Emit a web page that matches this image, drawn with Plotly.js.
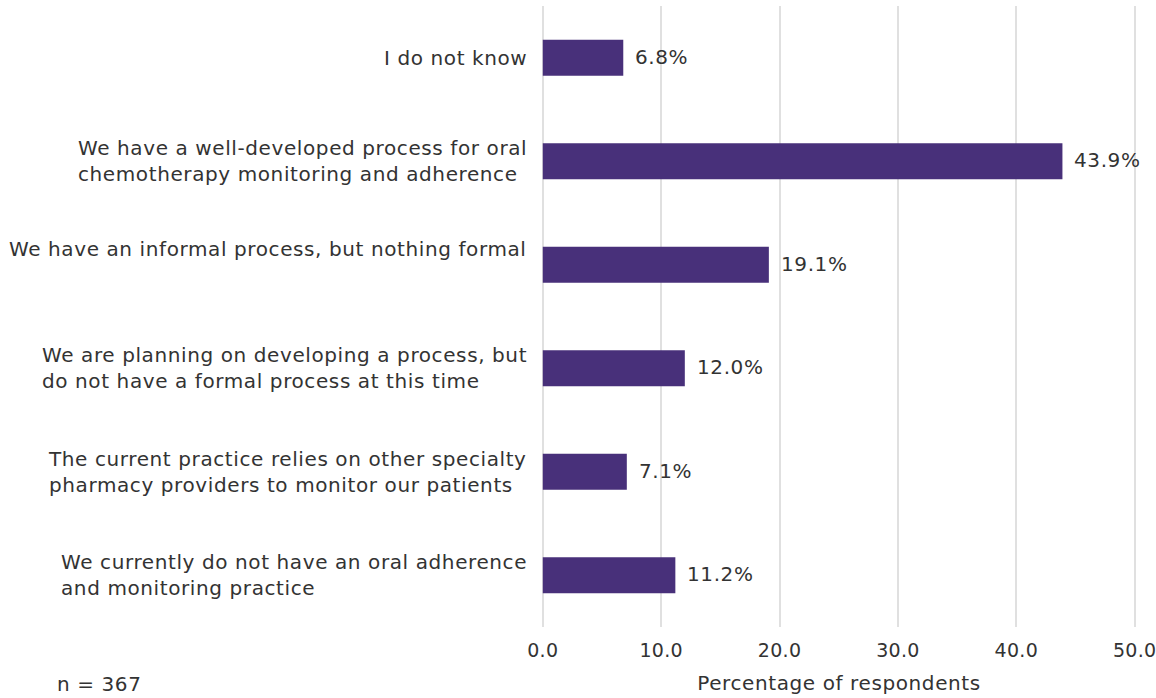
<!DOCTYPE html>
<html>
<head>
<meta charset="utf-8">
<script src="https://cdn.plot.ly/plotly-3.0.1.min.js"></script>
<style>html,body{margin:0;padding:0;background:#fff;}#chart{width:1156px;height:698px;} svg text{letter-spacing:0.6px;} .xtick text{letter-spacing:0.3px;}</style>
</head>
<body>
<div id="chart"></div>
<script>
var categories = [
  "I do not know",
  "We have a well-developed process for oral<br>chemotherapy monitoring and adherence",
  "We have an informal process, but nothing formal",
  "We are planning on developing a process, but<br>do not have a formal process at this time",
  "The current practice relies on other specialty<br>pharmacy providers to monitor our patients",
  "We currently do not have an oral adherence<br>and monitoring practice"
];
var values = [6.8, 43.9, 19.1, 12.0, 7.1, 11.2];
var tickVals = [0, 10, 20, 30, 40, 50];
var tickText = ["0.0", "10.0", "20.0", "30.0", "40.0", "50.0"];
var noteText = "n = 367";
var xTitle = "Percentage of respondents";

var font = "DejaVu Sans, sans-serif";
var fs = 20;
var txtColor = "#333333";
var trace = {
  type: "bar",
  orientation: "h",
  x: values,
  y: categories,
  marker: {color: "#48307a"},
  width: 0.35,
  hoverinfo: "skip"
};
var annotations = [];
categories.forEach(function(c, i){
  annotations.push({
    text: c, xref: "paper", yref: "y", x: 0, y: c,
    xanchor: "right", yanchor: "middle", align: "left",
    xshift: -12, yshift: (i === 2 ? 16 : 0),
    showarrow: false, font: {family: font, size: fs, color: txtColor}
  });
  annotations.push({
    text: values[i].toFixed(1) + "%", xref: "x", yref: "y", x: values[i], y: c,
    xanchor: "left", yanchor: "middle", xshift: 10, yshift: 1,
    showarrow: false, font: {family: font, size: fs, color: txtColor}
  });
});
annotations.push({
  text: noteText, xref: "paper", yref: "paper",
  x: (55 - 541) / 596, y: 0, xanchor: "left", yanchor: "middle",
  yshift: -57, showarrow: false,
  font: {family: font, size: fs, color: txtColor}
});
var layout = {
  width: 1156, height: 698,
  margin: {l: 541, r: 19, t: 6, b: 71},
  paper_bgcolor: "#ffffff", plot_bgcolor: "#ffffff",
  font: {family: font, size: fs, color: txtColor},
  showlegend: false,
  xaxis: {
    range: [-0.15, 50.2],
    tickvals: tickVals, ticktext: tickText,
    showgrid: true, gridcolor: "#e0e0e0", gridwidth: 2,
    zeroline: false, showline: false,
    ticks: "outside", ticklen: 6, tickcolor: "rgba(0,0,0,0)",
    ticklabeloverflow: "allow",
    tickfont: {family: font, size: 19, color: txtColor},
    title: {text: xTitle, font: {family: font, size: fs, color: txtColor}, standoff: 16},
    fixedrange: true
  },
  yaxis: {
    autorange: "reversed",
    showgrid: false, zeroline: false, showline: false,
    showticklabels: false,
    fixedrange: true
  },
  annotations: annotations
};
Plotly.newPlot("chart", [trace], layout, {displayModeBar: false, staticPlot: true});
</script>
</body>
</html>
